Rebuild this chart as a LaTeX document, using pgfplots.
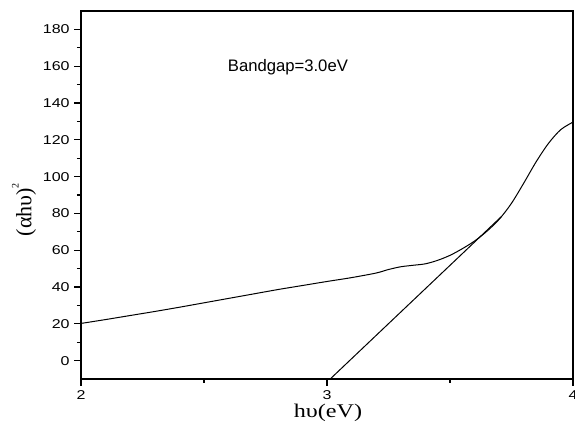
\documentclass[border=0pt]{standalone}
\usepackage{fontspec}
\setmainfont{Liberation Sans}
\newfontfamily\serif{Liberation Serif}
\usepackage{graphicx}
\usepackage{pgfplots}
\pgfplotsset{compat=1.18}
\begin{document}
\begin{tikzpicture}
\begin{axis}[
  at={(60.75pt,44.25pt)}, anchor=south west,
  scale only axis, width=369pt, height=276pt,
  xmin=2, xmax=4, ymin=-10, ymax=190,
  xtick={2,3,4}, minor xtick={2.5,3.5},
  ytick={0,20,...,180}, minor ytick={10,30,...,170},
  tick pos=left, tick align=outside,
  major tick length=5pt, minor tick length=3pt,
  axis line style={line width=1pt},
  every tick/.style={line width=0.9pt, black},
  every minor tick/.style={line width=0.9pt, black},
  tick label style={font=\fontsize{9.6}{11}\selectfont},
  /pgf/number format/assume math mode=true,
  xticklabel={\scalebox{1.25}[1]{\pgfmathprintnumber{\tick}}},
  yticklabel={\scalebox{1.25}[1]{\pgfmathprintnumber{\tick}}},
  xlabel={\scalebox{1.25}[1]{\serif\fontsize{14.5}{16}\selectfont hυ(eV)}},
  ylabel={\serif\fontsize{16.5}{19}\selectfont (αhυ)\raisebox{1.25ex}{\fontsize{7.5}{8}\selectfont 2}},
  xlabel style={at={(axis description cs:0.502,-0.0924)}, anchor=center},
  ylabel style={at={(axis description cs:-0.1159,0.46)}, anchor=center},
]
\addplot[black, line width=0.75pt, smooth] coordinates {
(2.00,20.2) (2.10,22.3) (2.20,24.5) (2.30,26.7) (2.40,29.0) (2.50,31.4)
(2.60,33.8) (2.70,36.2) (2.80,38.6) (2.90,40.8) (3.00,43.0) (3.10,45.1)
(3.20,47.6) (3.25,49.5) (3.30,51.0) (3.35,51.8) (3.40,52.6) (3.45,54.5)
(3.50,57.2) (3.55,60.8) (3.60,65.0) (3.65,70.3) (3.70,76.8) (3.75,85.5)
(3.80,96.5) (3.85,108.0) (3.90,118.0) (3.95,125.5) (4.00,129.6)
};
\addplot[black, line width=0.75pt] coordinates {(3.013,-10) (3.710,78.4)};
\node[anchor=west, font=\fontsize{12.5}{14}\selectfont] at (axis cs:2.578,159.3) {Bandgap=3.0eV};
\end{axis}
\pgfresetboundingbox
\path[use as bounding box] (0,0) rectangle (431.25pt,328.5pt);
\end{tikzpicture}
\end{document}
